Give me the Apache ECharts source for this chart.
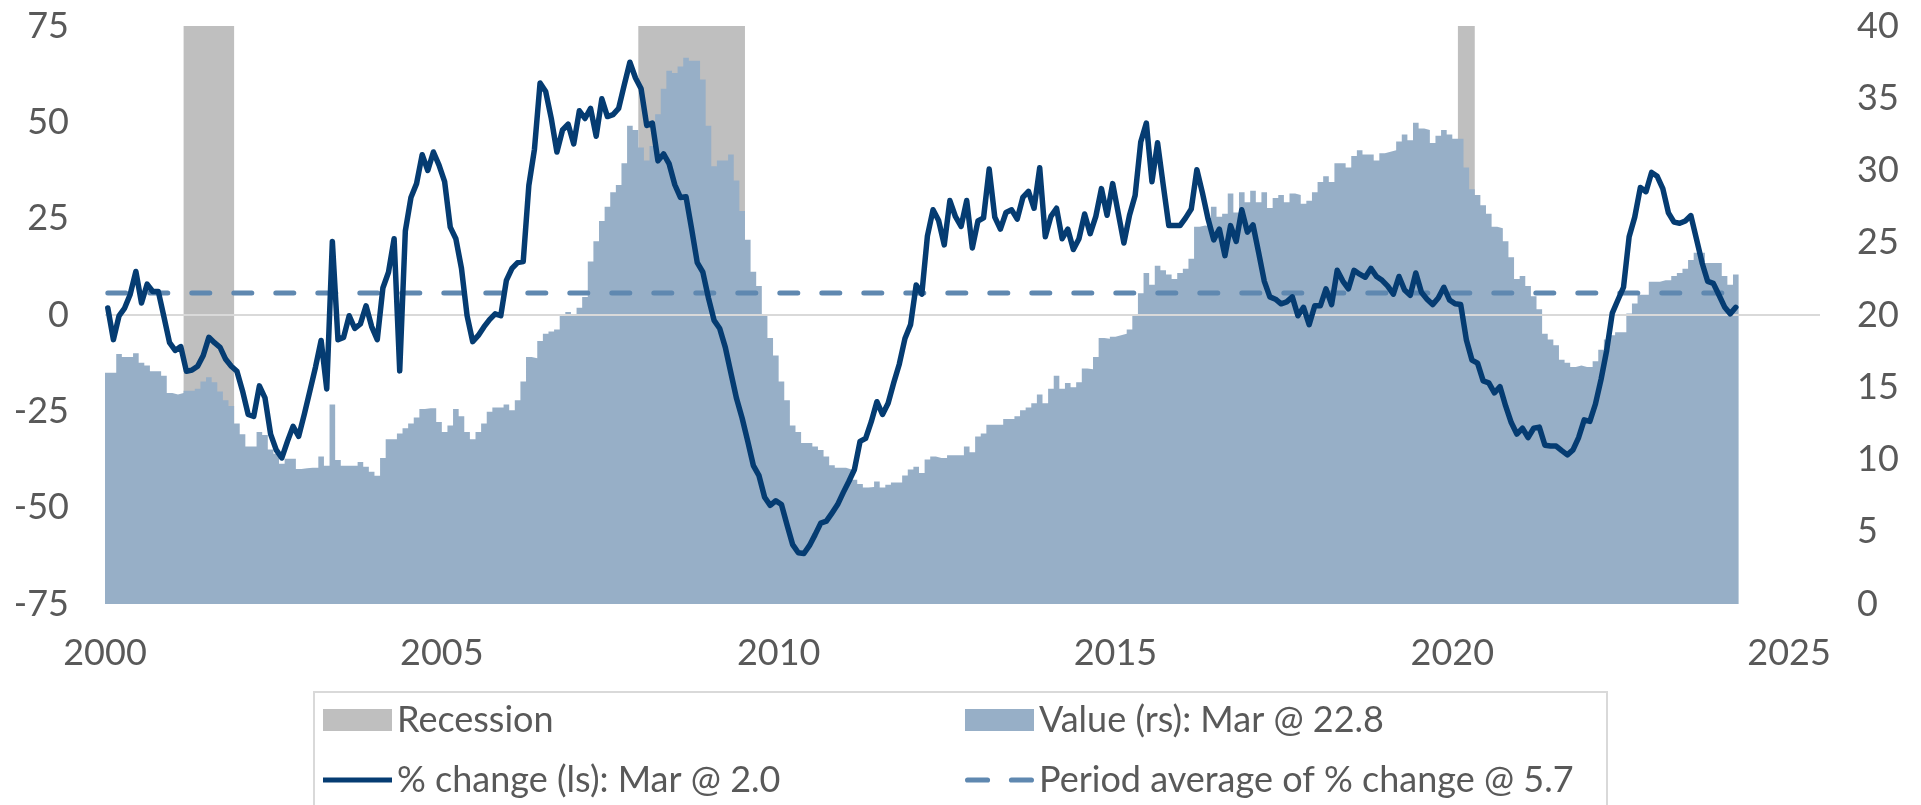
<!DOCTYPE html>
<html>
<head>
<meta charset="utf-8">
<title>Value and % change</title>
<script src="https://cdn.jsdelivr.net/npm/echarts@6/dist/echarts.min.js"></script>
<style>
  html, body { margin: 0; padding: 0; background: #ffffff; }
  #chart { width: 1921px; height: 805px; }
</style>
</head>
<body>
<div id="chart"></div>
<script>
// Monthly series, January 2000 to March 2024
const START_YEAR = 2000;

// % change, left scale
const pctChange = [
  1.8, -6.4, -0.2, 1.8, 5.4, 11.3, 3.1, 8.0, 6.1, 6.1, -0.5, -7.2,
  -9.2, -8.2, -14.6, -14.3, -13.3, -10.5, -5.8, -7.2, -8.4, -11.5, -13.3, -14.6,
  -19.7, -25.8, -26.3, -18.4, -21.5, -30.9, -35.0, -37.1, -32.8, -28.9, -31.5, -25.8,
  -19.7, -13.5, -6.6, -19.2, 19.1, -6.4, -5.8, -0.2, -3.5, -2.3, 2.4, -3.0,
  -6.4, 7.0, 11.1, 19.8, -14.5, 21.8, 30.5, 34.1, 41.6, 37.5, 42.3, 38.9,
  34.6, 22.8, 19.8, 12.1, -0.2, -6.9, -5.3, -3.1, -1.2, 0.3, -0.2, 9.0,
  12.1, 13.6, 13.9, 33.6, 43.0, 60.2, 58.0, 51.0, 42.3, 48.0, 49.5, 44.4,
  53.0, 51.0, 53.6, 46.4, 56.1, 51.5, 52.0, 53.6, 59.7, 65.6, 61.5, 58.7,
  49.2, 49.8, 40.0, 41.8, 39.2, 33.8, 30.5, 30.7, 22.3, 13.6, 11.1, 4.4,
  -1.4, -3.5, -8.4, -15.1, -21.7, -26.8, -32.8, -39.1, -41.7, -47.3, -49.4, -48.2,
  -49.2, -54.5, -59.6, -61.7, -61.9, -59.8, -57.0, -54.0, -53.5, -51.4, -49.2, -46.1,
  -43.2, -40.1, -32.8, -32.0, -27.7, -22.5, -25.8, -22.9, -17.6, -12.7, -6.1, -2.5,
  7.8, 5.4, 20.5, 27.3, 24.5, 18.2, 29.7, 25.5, 23.0, 29.7, 17.4, 24.4,
  25.2, 37.9, 25.4, 22.3, 26.6, 27.3, 24.9, 30.5, 32.1, 27.7, 38.2, 20.3,
  25.6, 27.7, 19.8, 22.3, 17.0, 19.8, 26.2, 21.1, 25.6, 32.8, 25.9, 34.1,
  26.4, 18.7, 25.9, 31.0, 44.9, 49.8, 34.6, 44.7, 33.8, 23.2, 23.2, 23.2,
  25.2, 27.5, 37.7, 31.6, 24.9, 19.5, 22.3, 15.4, 23.2, 19.1, 27.3, 21.5,
  23.4, 16.2, 8.8, 4.7, 4.1, 2.9, 3.4, 4.7, -0.2, 2.0, -2.5, 2.4,
  2.4, 6.8, 2.7, 11.6, 8.8, 6.8, 11.6, 10.6, 9.8, 12.1, 10.0, 9.0,
  7.5, 5.4, 10.0, 6.5, 5.1, 10.9, 5.9, 4.1, 2.7, 4.4, 7.2, 3.9,
  2.9, 2.7, -6.4, -11.7, -12.5, -17.1, -17.6, -20.2, -18.6, -23.6, -27.9, -30.9,
  -29.4, -31.8, -29.4, -29.1, -33.8, -34.0, -34.0, -35.2, -36.3, -35.0, -31.8, -27.2,
  -27.6, -23.1, -16.7, -9.2, 0.5, 3.9, 7.2, 20.3, 25.4, 33.1, 32.0, 37.0,
  36.0, 32.8, 26.5, 24.1, 23.8, 24.4, 25.8, 19.7, 13.5, 8.7, 8.2, 5.2,
  2.1, 0.3, 2.0
];

// Level, right scale
const levelValue = [
  16.0, 16.0, 17.3, 17.1, 17.1, 17.35, 16.7, 16.5, 16.1, 16.1, 15.8, 14.6,
  14.5, 14.6, 14.75, 14.75, 14.9, 15.4, 15.7, 15.35, 14.7, 14.1, 13.7, 12.5,
  11.75, 10.9, 10.9, 11.9, 11.7, 10.7, 10.4, 9.7, 10.05, 10.05, 9.35, 9.4,
  9.43, 9.43, 10.2, 9.56, 13.8, 9.97, 9.56, 9.56, 9.56, 9.83, 9.5, 9.15,
  8.88, 10.1, 11.4, 11.4, 11.8, 12.16, 12.5, 12.9, 13.5, 13.55, 13.55, 12.6,
  11.9, 12.35, 13.5, 13.0, 11.9, 11.4, 11.9, 12.5, 13.3, 13.6, 13.6, 13.8,
  13.4, 14.1, 15.4, 17.1, 17.0, 18.2, 18.7, 18.85, 19.0, 19.94, 20.2, 20.0,
  20.5, 21.25, 23.7, 25.1, 26.5, 27.5, 28.5, 29.0, 30.5, 33.1, 32.8, 31.6,
  30.7, 31.7, 33.9, 35.65, 36.9, 36.75, 37.2, 37.8, 37.6, 37.6, 36.3, 33.1,
  30.3, 30.7, 30.7, 31.1, 29.3, 27.2, 25.2, 23.0, 22.0, 20.0, 18.4, 17.2,
  15.4, 14.1, 12.35, 11.9, 11.15, 11.15, 10.9, 10.65, 10.2, 9.6, 9.43, 9.43,
  9.3, 8.6, 8.3, 8.06, 8.1, 8.47, 8.06, 8.25, 8.4, 8.4, 8.9, 9.3,
  9.5, 9.07, 10.0, 10.2, 10.1, 10.1, 10.3, 10.3, 10.3, 10.9, 10.5, 11.6,
  11.8, 12.4, 12.4, 12.4, 12.8, 12.8, 13.0, 13.4, 13.6, 13.9, 14.5, 13.9,
  14.9, 15.8, 14.9, 15.3, 15.0, 15.35, 16.3, 16.25, 17.1, 18.4, 18.35, 18.5,
  18.6, 18.7, 19.0, 20.0, 21.5, 22.9, 22.1, 23.4, 23.1, 22.8, 22.5, 22.9,
  23.2, 23.9, 26.1, 26.2, 26.1, 27.5, 26.8, 27.0, 28.4, 27.1, 28.5, 27.8,
  28.6, 27.8, 28.5, 27.4, 28.1, 28.3, 27.8, 28.4, 28.3, 27.7, 27.9, 28.5,
  29.2, 29.6, 29.2, 30.5, 30.5, 30.2, 31.0, 31.4, 31.1, 31.1, 30.7, 31.2,
  31.3, 31.4, 32.0, 32.5, 32.1, 33.3, 32.9, 32.8, 31.9, 32.4, 32.8, 32.5,
  32.2, 32.2, 30.2, 28.7, 28.3, 27.6, 27.0, 26.1, 26.0, 25.1, 24.0, 22.5,
  22.7, 22.0, 21.3, 20.4, 18.7, 18.3, 17.9, 16.9, 16.7, 16.4, 16.5, 16.4,
  16.4, 16.8, 17.6, 18.3, 18.6, 18.8, 18.8, 20.1, 20.8, 21.4, 21.4, 22.3,
  22.3, 22.4, 22.4, 22.7, 22.9, 23.2, 23.8, 24.3, 24.3, 23.6, 23.6, 23.6,
  22.7, 22.1, 22.8
];

// Average of the % change over the whole period
const periodAverage = 5.7;

// Recession periods, first and last month
const recessions = [
  ['2001-03', '2001-11'],
  ['2007-12', '2009-06'],
  ['2020-02', '2020-04']
];

// Axis settings
const leftAxis = { min: -75, max: 75, step: 25 };
const rightAxis = { min: 0, max: 40, step: 5 };
const yearStep = 5;

// ---- helpers -------------------------------------------------------------
const monthIndex = (ym) => {
  const [y, m] = ym.split('-').map(Number);
  return (y - START_YEAR) * 12 + (m - 1);
};
const nMonths = pctChange.length;
const lastIdx = nMonths - 1;
const lastMonthName = 'Mar';

const nameRecession = 'Recession';
const nameValue = 'Value (rs): ' + lastMonthName + ' @ ' + levelValue[lastIdx].toFixed(1);
const nameChange = '% change (ls): ' + lastMonthName + ' @ ' + pctChange[lastIdx].toFixed(1);
const nameAverage = 'Period average of % change @ ' + periodAverage.toFixed(1);

// x is counted in months from January 2000; the line sits mid-month
const changeData = pctChange.map((v, i) => [i + 0.5, v]);
// each month's level is held flat across its month (step drawn from month start)
const valueData = levelValue.map((v, i) => [i, v]).concat([[nMonths, levelValue[lastIdx]]]);
const averageData = [[0.5, periodAverage], [lastIdx + 0.5, periodAverage]];
const X_MAX = 305.5;
const zeroData = [[0, 0], [X_MAX, 0]];
const recessionAreas = recessions.map(([s, e]) => [
  { xAxis: monthIndex(s) },
  { xAxis: monthIndex(e) + 1 }
]);

const FONT = 'Lato, "Open Sans", sans-serif';
const TEXT = '#595959';
const C_LINE = '#053c72';
const C_AREA = '#97afc7';
const C_AVG = '#5f88b0';
const C_REC = '#bfbfbf';

// legend glyphs: solid bar and two rounded dashes
const ICON_LINE = 'path://M0,0H69V5H0Z';
const ICON_DASH = 'path://M2.5,0H21.5A2.5,2.5 0 0 1 21.5,5H2.5A2.5,2.5 0 0 1 2.5,0Z' +
                  'M44.5,0H63.5A2.5,2.5 0 0 1 63.5,5H44.5A2.5,2.5 0 0 1 44.5,0Z';

const chart = echarts.init(document.getElementById('chart'), null, { renderer: 'canvas' });

const legendCommon = {
  orient: 'vertical',
  top: 697,
  itemWidth: 69,
  itemHeight: 22,
  itemGap: 24,
  selectedMode: false,
  textStyle: { fontFamily: FONT, fontSize: 36, lineHeight: 36, color: TEXT, padding: 0 }
};

chart.setOption({
  animation: false,
  backgroundColor: '#ffffff',
  textStyle: { fontFamily: FONT },
  grid: { left: 105, right: 101, top: 26, bottom: 201, containLabel: false },
  legend: [
    Object.assign({}, legendCommon, {
      left: 318,
      data: [
        { name: nameRecession, icon: 'rect', itemStyle: { color: C_REC } },
        { name: nameChange, icon: ICON_LINE }
      ]
    }),
    Object.assign({}, legendCommon, {
      left: 960,
      data: [
        { name: nameValue, icon: 'rect' },
        { name: nameAverage, icon: ICON_DASH }
      ]
    })
  ],
  graphic: [{
    type: 'rect',
    silent: true,
    shape: { x: 314, y: 692, width: 1293, height: 140 },
    style: { fill: 'none', stroke: '#d9d9d9', lineWidth: 2 },
    z: -1
  }],
  xAxis: {
    type: 'value',
    min: 0,
    max: X_MAX,
    interval: yearStep * 12,
    axisLine: { show: false },
    axisTick: { show: false },
    splitLine: { show: false },
    axisLabel: {
      margin: 31,
      fontFamily: FONT,
      fontSize: 36,
      lineHeight: 36,
      color: TEXT,
      showMaxLabel: false,
      formatter: (v) => (v % (yearStep * 12) === 0 ? String(START_YEAR + v / 12) : '')
    }
  },
  yAxis: [
    {
      type: 'value',
      min: leftAxis.min,
      max: leftAxis.max,
      interval: leftAxis.step,
      axisLine: { show: false },
      axisTick: { show: false },
      splitLine: { show: false },
      axisLabel: { margin: 36, fontFamily: FONT, fontSize: 36, color: TEXT }
    },
    {
      type: 'value',
      position: 'right',
      min: rightAxis.min,
      max: rightAxis.max,
      interval: rightAxis.step,
      axisLine: { show: false },
      axisTick: { show: false },
      splitLine: { show: false },
      axisLabel: { margin: 37, fontFamily: FONT, fontSize: 36, color: TEXT }
    }
  ],
  series: [
    {
      name: nameRecession,
      type: 'line',
      yAxisIndex: 0,
      data: [],
      z: 1,
      color: C_REC,
      symbol: 'none',
      silent: true,
      markArea: {
        silent: true,
        itemStyle: { color: C_REC },
        data: recessionAreas
      }
    },
    {
      name: nameValue,
      type: 'line',
      yAxisIndex: 1,
      data: valueData,
      step: 'end',
      symbol: 'none',
      z: 2,
      color: C_AREA,
      silent: true,
      lineStyle: { width: 0, color: C_AREA },
      areaStyle: { color: C_AREA, opacity: 1, origin: 'start' }
    },
    {
      name: 'zero',
      type: 'line',
      yAxisIndex: 0,
      data: zeroData,
      symbol: 'none',
      z: 3,
      silent: true,
      lineStyle: { color: '#d9d9d9', width: 2 }
    },
    {
      name: nameAverage,
      type: 'line',
      yAxisIndex: 0,
      data: averageData,
      symbol: 'none',
      z: 4,
      silent: true,
      color: C_AVG,
      lineStyle: { color: C_AVG, width: 5, type: [18, 24], cap: 'round' }
    },
    {
      name: nameChange,
      type: 'line',
      yAxisIndex: 0,
      data: changeData,
      symbol: 'none',
      z: 5,
      silent: true,
      color: C_LINE,
      lineStyle: { color: C_LINE, width: 5.5, cap: 'round', join: 'round' }
    }
  ]
});
</script>
</body>
</html>
